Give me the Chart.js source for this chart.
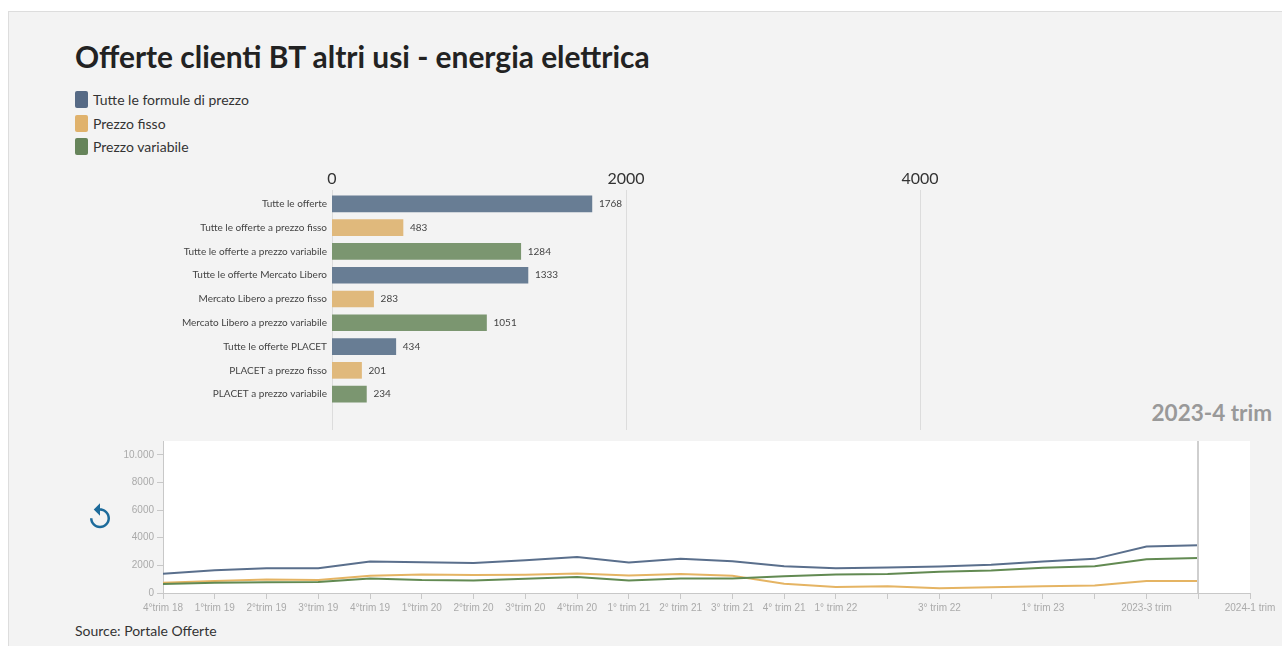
<!DOCTYPE html>
<html lang="it">
<head>
<meta charset="utf-8">
<script src="https://cdn.jsdelivr.net/npm/chart.js@4"></script>
<style>
  html, body { margin: 0; padding: 0; background: #fff; }
  body { width: 1282px; height: 646px; position: relative; overflow: hidden; font-family: Lato, "Noto Sans", sans-serif; }
  .panel { position: absolute; left: 8px; top: 11px; width: 1280px; height: 640px; background: #f3f3f3; border-left: 1px solid #ddd; border-top: 1px solid #ddd; }
  .title { position: absolute; left: 75px; top: 38px; font-size: 29.9px; font-weight: 700; color: #222; }
  .legend { position: absolute; left: 75px; top: 88px; font-size: 14px; color: #333; }
  .legend div { height: 23.5px; display: flex; align-items: center; }
  .legend span { display: inline-block; width: 13px; height: 17px; border-radius: 2px; margin-right: 5px; }
  .period { position: absolute; right: 10px; top: 399px; font-size: 22.5px; font-weight: 700; color: #999; }
  .source { position: absolute; left: 75px; top: 622px; font-size: 14px; color: #333; }
  .reload { position: absolute; left: 85px; top: 502px; }
  canvas { position: absolute; }
  #bars { left: 160px; top: 167px; }
  #trend { left: 100px; top: 432px; }
</style>
</head>
<body>
<div class="panel"></div>
<div class="title">Offerte clienti BT altri usi - energia elettrica</div>
<div class="legend" id="legend"></div>
<div class="period">2023-4 trim</div>
<svg class="reload" width="30" height="30" viewBox="0 0 24 24">
  <path d="M12 5V1L7 6l5 5V7c3.3 0 6 2.7 6 6s-2.7 6-6 6-6-2.7-6-6H4c0 4.4 3.6 8 8 8s8-3.6 8-8-3.6-8-8-8z" fill="#1d6b9b"/>
</svg>
<canvas id="bars" width="1070" height="263"></canvas>
<canvas id="trend" width="1182" height="190"></canvas>
<div class="source">Source: Portale Offerte</div>

<script>
// series names + colours
const seriesNames = ['Tutte le formule di prezzo', 'Prezzo fisso', 'Prezzo variabile'];
const legendColors = ['#566a85', '#e0b26c', '#66845a'];
const barColors = ['#687d94', '#e0b97c', '#7b9670'];
const lineColors = ['#5a6f8c', '#e5b463', '#628a52'];

// bar chart (2023-4 trim)
const barLabels = [
    'Tutte le offerte',
    'Tutte le offerte a prezzo fisso',
    'Tutte le offerte a prezzo variabile',
    'Tutte le offerte Mercato Libero',
    'Mercato Libero a prezzo fisso',
    'Mercato Libero a prezzo variabile',
    'Tutte le offerte PLACET',
    'PLACET a prezzo fisso',
    'PLACET a prezzo variabile'
];
const barValues = [1768, 483, 1284, 1333, 283, 1051, 434, 201, 234];
const barTicks = [0, 2000, 4000];

// time series
const quarters = [
    '4°trim 18', '1°trim 19', '2°trim 19', '3°trim 19', '4°trim 19',
    '1°trim 20', '2°trim 20', '3°trim 20', '4°trim 20',
    '1° trim 21', '2° trim 21', '3° trim 21', '4° trim 21',
    '1° trim 22', '2° trim 22', '3° trim 22', '4° trim 22', '1° trim 23', '2° trim 23',
    '2023-3 trim', '2023-4 trim', '2024-1 trim'
];
const hiddenLabels = ['2° trim 22', '4° trim 22', '2° trim 23', '2023-4 trim'];
const tuttePrezzo = [1400, 1650, 1800, 1800, 2280, 2230, 2180, 2370, 2610, 2200, 2470, 2300, 1940, 1800, 1840, 1920, 2040, 2280, 2470, 3360, 3450];
const prezzoFisso = [740, 860, 980, 935, 1250, 1340, 1300, 1320, 1420, 1270, 1370, 1250, 670, 430, 480, 340, 410, 480, 550, 860, 860];
const prezzoVariabile = [650, 740, 770, 790, 1050, 935, 910, 1030, 1150, 910, 1050, 1050, 1220, 1340, 1370, 1530, 1630, 1820, 1940, 2450, 2540];
const yTicks = [0, 2000, 4000, 6000, 8000, 10000];
const currentIndex = 20;

const legendBox = document.getElementById('legend');
seriesNames.forEach((name, i) => {
    const row = document.createElement('div');
    row.innerHTML = '<span style="background:' + legendColors[i] + '"></span>' + name;
    legendBox.appendChild(row);
});

const barColorList = barValues.map((v, i) => barColors[i % 3]);

const gridPlugin = {
    id: 'longGrid',
    beforeDatasetsDraw(chart) {
        const ctx = chart.ctx;
        const area = chart.chartArea;
        const xs = chart.scales.x;
        ctx.save();
        ctx.strokeStyle = '#dcdcdc';
        ctx.lineWidth = 1;
        barTicks.forEach(v => {
            const px = Math.round(xs.getPixelForValue(v)) + 0.5;
            ctx.beginPath();
            ctx.moveTo(px, area.top - 2);
            ctx.lineTo(px, area.bottom + 24);
            ctx.stroke();
        });
        ctx.restore();
    }
};

const valueLabels = {
    id: 'valueLabels',
    afterDatasetsDraw(chart) {
        const ctx = chart.ctx;
        const meta = chart.getDatasetMeta(0);
        ctx.save();
        ctx.font = '10px Lato, "Noto Sans", sans-serif';
        ctx.fillStyle = '#444';
        ctx.textBaseline = 'middle';
        meta.data.forEach((bar, i) => {
            ctx.fillText(String(barValues[i]), bar.x + 7, bar.y);
        });
        ctx.restore();
    }
};

new Chart(document.getElementById('bars'), {
    type: 'bar',
    data: {
        labels: barLabels,
        datasets: [{
            data: barValues,
            backgroundColor: barColorList,
            borderWidth: 0,
            barThickness: 16
        }]
    },
    options: {
        indexAxis: 'y',
        responsive: false,
        animation: false,
        layout: { padding: { top: 0, right: 16, bottom: 24, left: 0 } },
        plugins: { legend: { display: false }, tooltip: { enabled: false } },
        scales: {
            x: {
                position: 'top',
                min: 0,
                max: 6000,
                afterBuildTicks: axis => { axis.ticks = barTicks.map(v => ({ value: v })); },
                afterFit: scale => { scale.height = 25; },
                grid: { display: false, drawTicks: false },
                border: { display: false },
                ticks: {
                    color: '#333',
                    font: { size: 16, family: 'Lato, "Noto Sans", sans-serif' },
                    padding: 4,
                    maxRotation: 0,
                    callback: v => String(v)
                }
            },
            y: {
                afterFit: scale => { scale.width = 172; },
                grid: { display: false, drawTicks: false },
                border: { display: false },
                ticks: { color: '#444', font: { size: 10, family: 'Lato, "Noto Sans", sans-serif' }, padding: 5, autoSkip: false }
            }
        }
    },
    plugins: [gridPlugin, valueLabels]
});

const plotBack = {
    id: 'plotBack',
    beforeDraw(chart) {
        const ctx = chart.ctx;
        const a = chart.chartArea;
        ctx.save();
        ctx.fillStyle = '#ffffff';
        ctx.fillRect(a.left, a.top, a.right - a.left, a.bottom - a.top);
        ctx.restore();
    },
    afterDatasetsDraw(chart) {
        const ctx = chart.ctx;
        const a = chart.chartArea;
        const px = Math.round(chart.scales.x.getPixelForValue(currentIndex));
        ctx.save();
        ctx.strokeStyle = '#cfcfcf';
        ctx.lineWidth = 2;
        ctx.beginPath();
        ctx.moveTo(px, a.top);
        ctx.lineTo(px, a.bottom);
        ctx.stroke();
        ctx.restore();
    }
};

const lineData = [tuttePrezzo, prezzoFisso, prezzoVariabile];

new Chart(document.getElementById('trend'), {
    type: 'line',
    data: {
        labels: quarters,
        datasets: lineData.map((d, i) => ({
            label: seriesNames[i],
            data: d,
            borderColor: lineColors[i],
            borderWidth: 2,
            pointRadius: 0,
            tension: 0,
            fill: false
        })).reverse()
    },
    options: {
        responsive: false,
        animation: false,
        layout: { padding: { top: 8, right: 32, bottom: 0, left: 0 } },
        plugins: { legend: { display: false }, tooltip: { enabled: false } },
        scales: {
            x: {
                offset: false,
                afterFit: scale => { scale.height = 29; },
                grid: { drawOnChartArea: false, drawTicks: true, tickLength: 6, color: '#c8c8c8' },
                border: { display: true, color: '#c8c8c8' },
                ticks: {
                    color: '#aaa',
                    font: { size: 10, family: '"Liberation Sans", Arial, sans-serif' },
                    padding: 3,
                    autoSkip: false,
                    maxRotation: 0,
                    callback: (v, i) => hiddenLabels.includes(quarters[i]) ? '' : quarters[i]
                }
            },
            y: {
                min: 0,
                max: 11000,
                afterBuildTicks: axis => { axis.ticks = yTicks.map(v => ({ value: v })); },
                afterFit: scale => { scale.width = 63; },
                grid: { drawOnChartArea: false, drawTicks: true, tickLength: 6, color: '#c8c8c8' },
                border: { display: true, color: '#c8c8c8' },
                ticks: {
                    color: '#aaa',
                    font: { size: 10, family: '"Liberation Sans", Arial, sans-serif' },
                    padding: 3,
                    callback: v => v >= 10000 ? String(v).replace(/(\d)(?=(\d{3})+$)/g, '$1.') : String(v)
                }
            }
        }
    },
    plugins: [plotBack]
});
</script>
</body>
</html>
